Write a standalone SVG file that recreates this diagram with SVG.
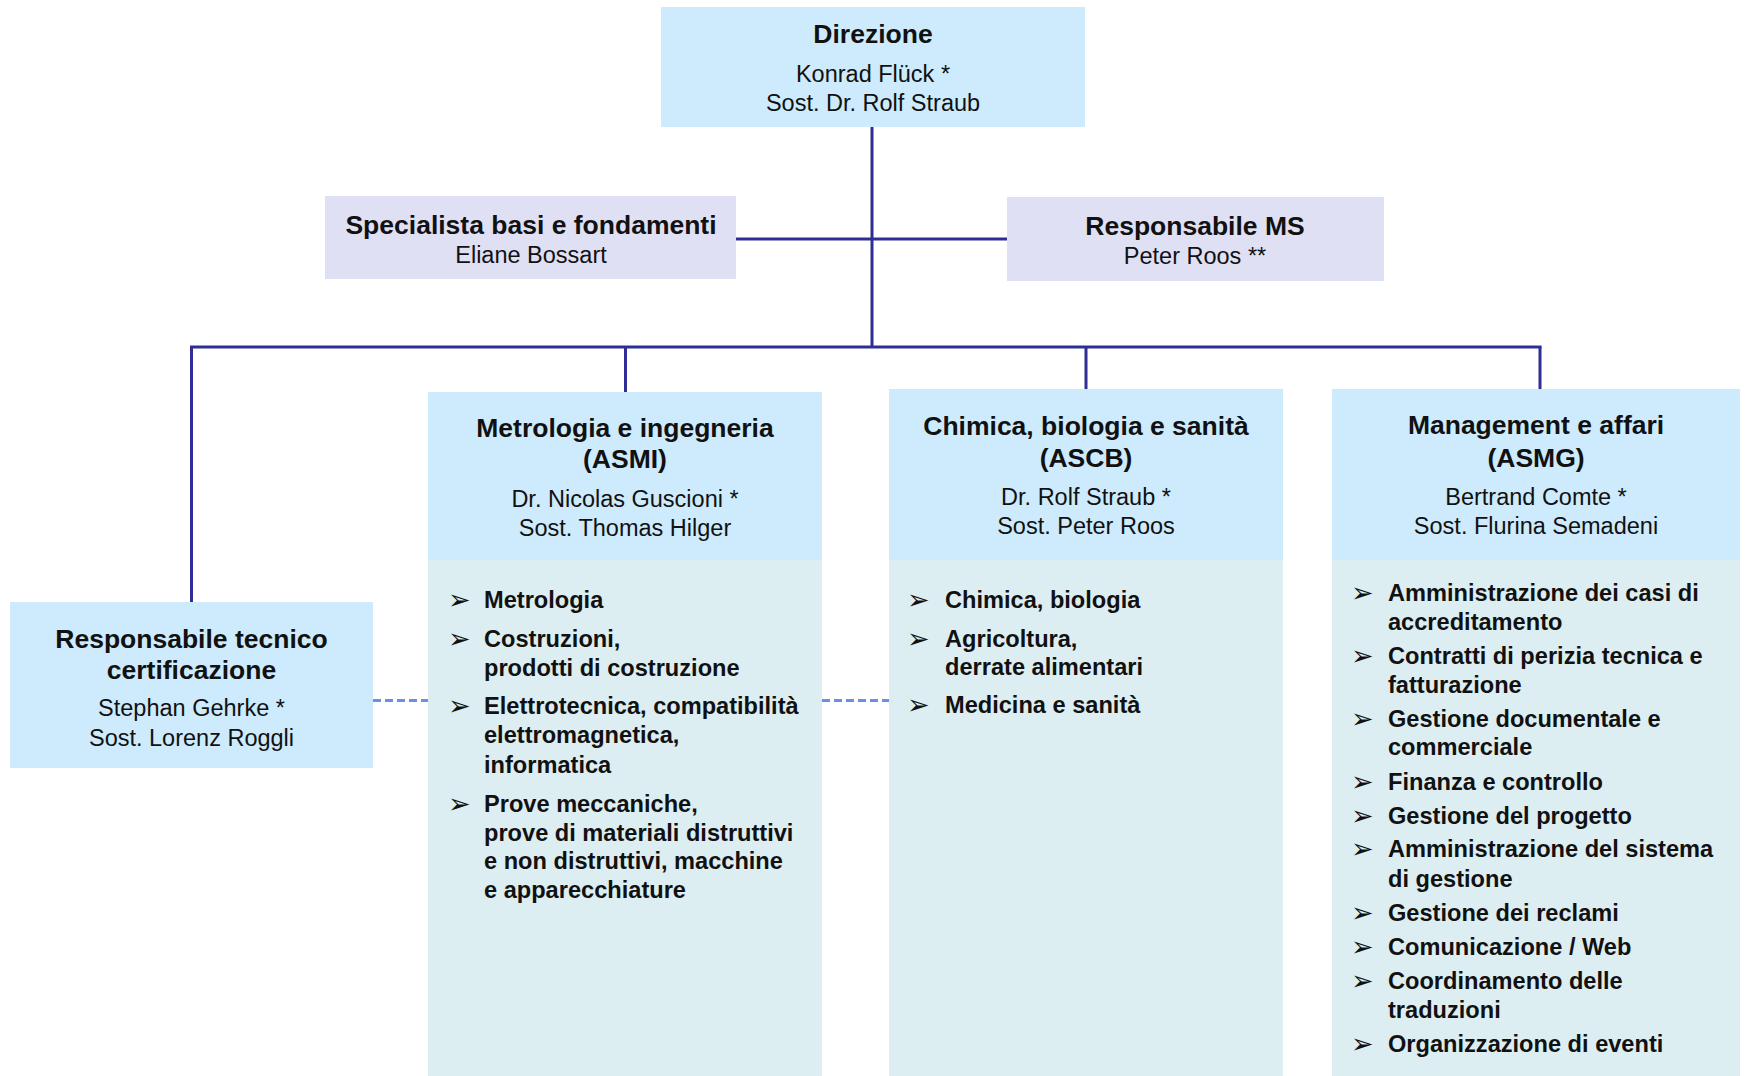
<svg xmlns="http://www.w3.org/2000/svg" width="1746" height="1076" viewBox="0 0 1746 1076">
<style>
  .hdr { fill: #CDEBFC; }
  .lav { fill: #E0E0F5; }
  .body { fill: #DDEEF2; }
  .t { font-family: "Liberation Sans", Arial, sans-serif; fill: #111; }
  .b { font-weight: bold; font-size: 26.5px; text-anchor: middle; }
  .n { font-size: 23.5px; text-anchor: middle; }
  .li { font-weight: bold; font-size: 23.6px; }
  .bu { font-family: "DejaVu Sans", sans-serif; font-size: 27px; fill: #111; }
  .ln { stroke: #2E2E95; stroke-width: 3; fill: none; }
  .dash { stroke: #6A8EEA; stroke-width: 3; stroke-dasharray: 8 4; fill: none; }
</style>
<rect width="1746" height="1076" fill="#FFFFFF"/>

<g id="connectors">
  <line class="ln" x1="872" y1="127" x2="872" y2="347"/>
  <line class="ln" x1="736" y1="239" x2="1007" y2="239"/>
  <line class="ln" x1="190" y1="347" x2="1541.5" y2="347"/>
  <line class="ln" x1="191.5" y1="347" x2="191.5" y2="602"/>
  <line class="ln" x1="625.5" y1="347" x2="625.5" y2="392"/>
  <line class="ln" x1="1086" y1="347" x2="1086" y2="389"/>
  <line class="ln" x1="1540" y1="347" x2="1540" y2="389"/>
  <line class="dash" x1="373" y1="700.5" x2="428" y2="700.5"/>
  <line class="dash" x1="822" y1="700.5" x2="889" y2="700.5"/>
</g>

<g id="direzione">
  <rect class="hdr" x="661" y="7" width="424" height="120"/>
  <text class="t b" x="873" y="43">Direzione</text>
  <text class="t n" x="873" y="82">Konrad Flück *</text>
  <text class="t n" x="873" y="111">Sost. Dr. Rolf Straub</text>
</g>

<g id="specialista">
  <rect class="lav" x="325" y="196" width="411" height="83"/>
  <text class="t b" x="531" y="234">Specialista basi e fondamenti</text>
  <text class="t n" x="531" y="263">Eliane Bossart</text>
</g>

<g id="responsabile-ms">
  <rect class="lav" x="1007" y="197" width="377" height="84"/>
  <text class="t b" x="1195" y="235">Responsabile MS</text>
  <text class="t n" x="1195" y="264">Peter Roos **</text>
</g>

<g id="responsabile-tecnico">
  <rect class="hdr" x="10" y="602" width="363" height="166"/>
  <text class="t b" x="191.5" y="648">Responsabile tecnico</text>
  <text class="t b" x="191.5" y="679">certificazione</text>
  <text class="t n" x="191.5" y="716">Stephan Gehrke *</text>
  <text class="t n" x="191.5" y="746">Sost. Lorenz Roggli</text>
</g>

<g id="asmi">
  <rect class="hdr" x="428" y="392" width="394" height="168"/>
  <rect class="body" x="428" y="560" width="394" height="516"/>
  <text class="t b" x="625" y="437">Metrologia e ingegneria</text>
  <text class="t b" x="625" y="468">(ASMI)</text>
  <text class="t n" x="625" y="507">Dr. Nicolas Guscioni *</text>
  <text class="t n" x="625" y="536">Sost. Thomas Hilger</text>
  <text class="bu" x="448" y="609">➢</text>
  <text class="bu" x="448" y="648">➢</text>
  <text class="bu" x="448" y="715">➢</text>
  <text class="bu" x="448" y="813">➢</text>
  <text class="t li" x="484" y="608">Metrologia</text>
  <text class="t li" x="484" y="647">Costruzioni,</text>
  <text class="t li" x="484" y="676">prodotti di costruzione</text>
  <text class="t li" x="484" y="714">Elettrotecnica, compatibilità</text>
  <text class="t li" x="484" y="743">elettromagnetica,</text>
  <text class="t li" x="484" y="773">informatica</text>
  <text class="t li" x="484" y="812">Prove meccaniche,</text>
  <text class="t li" x="484" y="841">prove di materiali distruttivi</text>
  <text class="t li" x="484" y="869">e non distruttivi, macchine</text>
  <text class="t li" x="484" y="898">e apparecchiature</text>
</g>

<g id="ascb">
  <rect class="hdr" x="889" y="389" width="394" height="171"/>
  <rect class="body" x="889" y="560" width="394" height="516"/>
  <text class="t b" x="1086" y="435">Chimica, biologia e sanità</text>
  <text class="t b" x="1086" y="467">(ASCB)</text>
  <text class="t n" x="1086" y="505">Dr. Rolf Straub *</text>
  <text class="t n" x="1086" y="534">Sost. Peter Roos</text>
  <text class="bu" x="907" y="609">➢</text>
  <text class="bu" x="907" y="648">➢</text>
  <text class="bu" x="907" y="714">➢</text>
  <text class="t li" x="945" y="608">Chimica, biologia</text>
  <text class="t li" x="945" y="647">Agricoltura,</text>
  <text class="t li" x="945" y="675">derrate alimentari</text>
  <text class="t li" x="945" y="713">Medicina e sanità</text>
</g>

<g id="asmg">
  <rect class="hdr" x="1332" y="389" width="408" height="171"/>
  <rect class="body" x="1332" y="560" width="408" height="516"/>
  <text class="t b" x="1536" y="434">Management e affari</text>
  <text class="t b" x="1536" y="467">(ASMG)</text>
  <text class="t n" x="1536" y="505">Bertrand Comte *</text>
  <text class="t n" x="1536" y="534">Sost. Flurina Semadeni</text>
  <text class="bu" x="1351" y="602">➢</text>
  <text class="bu" x="1351" y="665">➢</text>
  <text class="bu" x="1351" y="728">➢</text>
  <text class="bu" x="1351" y="791">➢</text>
  <text class="bu" x="1351" y="825">➢</text>
  <text class="bu" x="1351" y="858">➢</text>
  <text class="bu" x="1351" y="922">➢</text>
  <text class="bu" x="1351" y="956">➢</text>
  <text class="bu" x="1351" y="990">➢</text>
  <text class="bu" x="1351" y="1053">➢</text>
  <text class="t li" x="1388" y="601">Amministrazione dei casi di</text>
  <text class="t li" x="1388" y="630">accreditamento</text>
  <text class="t li" x="1388" y="664">Contratti di perizia tecnica e</text>
  <text class="t li" x="1388" y="693">fatturazione</text>
  <text class="t li" x="1388" y="727">Gestione documentale e</text>
  <text class="t li" x="1388" y="755">commerciale</text>
  <text class="t li" x="1388" y="790">Finanza e controllo</text>
  <text class="t li" x="1388" y="824">Gestione del progetto</text>
  <text class="t li" x="1388" y="857">Amministrazione del sistema</text>
  <text class="t li" x="1388" y="887">di gestione</text>
  <text class="t li" x="1388" y="921">Gestione dei reclami</text>
  <text class="t li" x="1388" y="955">Comunicazione / Web</text>
  <text class="t li" x="1388" y="989">Coordinamento delle</text>
  <text class="t li" x="1388" y="1018">traduzioni</text>
  <text class="t li" x="1388" y="1052">Organizzazione di eventi</text>
</g>
</svg>
